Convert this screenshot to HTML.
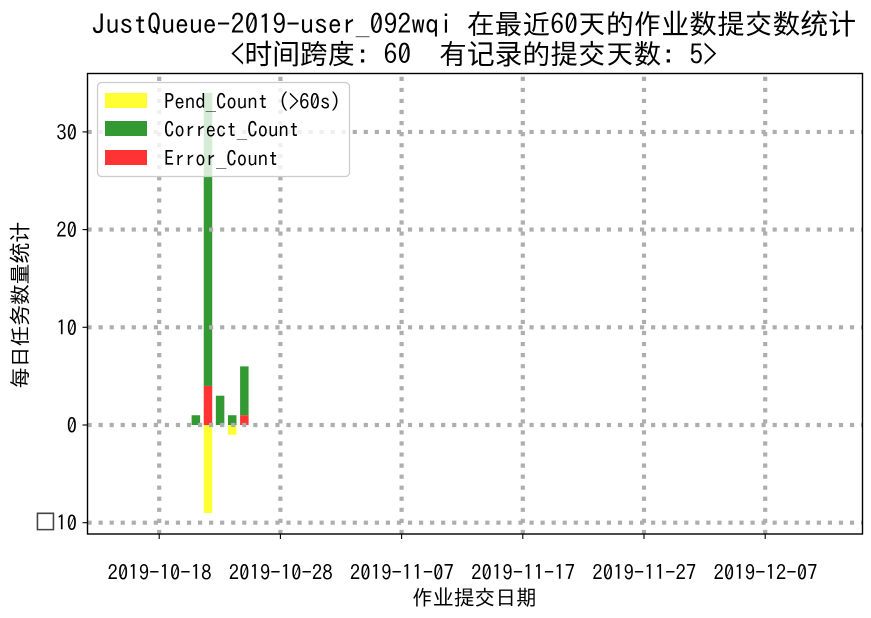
<!DOCTYPE html>
<html>
<head>
<meta charset="utf-8">
<style>
html,body{margin:0;padding:0;background:#fff;}
svg{display:block;}
text{font-family:"IPAGothic","WenQuanYi Zen Hei","Noto Sans CJK SC",sans-serif;fill:#000;white-space:pre;}
</style>
</head>
<body>
<svg id="chart" width="871" height="618" viewBox="0 0 871 618" xmlns="http://www.w3.org/2000/svg">
  <rect x="0" y="0" width="871" height="618" fill="#fff"/>
  <text x="473.8" y="34" font-size="27.8" text-anchor="middle">JustQueue-2019-user_092wqi 在最近60天的作业数提交数统计</text>
  <text x="473.8" y="64" font-size="27.8" text-anchor="middle">&lt;时间跨度: 60  有记录的提交天数: 5&gt;</text>
  <g id="grid"></g>
  <g id="bars"></g>
  <g id="grid-top"></g>
  <rect x="87.5" y="73.5" width="775" height="460.5" fill="none" stroke="#000" stroke-width="1.4"/>
  <g id="x-ticks"></g>
  <g id="y-ticks"></g>
  <text x="474.5" y="605" font-size="20.8" text-anchor="middle">作业提交日期</text>
  <text x="0" y="0" font-size="20.8" text-anchor="middle" transform="translate(27.5,305) rotate(-90)">每日任务数量统计</text>
  <g>
    <rect x="97.5" y="82.5" width="252" height="94" rx="4" ry="4" fill="#fff" fill-opacity="0.8" stroke="#ccc" stroke-width="1.3"/>
    <rect x="105" y="93" width="42" height="15" fill="#ffff33"/>
    <text x="164" y="109" font-size="20.8">Pend_Count (&gt;60s)</text>
    <rect x="105" y="121" width="42" height="15" fill="#339933"/>
    <text x="164" y="137" font-size="20.8">Correct_Count</text>
    <rect x="105" y="150" width="42" height="15" fill="#ff3333"/>
    <text x="164" y="166" font-size="20.8">Error_Count</text>
  </g>
</svg>
<script>
var dayOffsets = [3, 4, 5, 6, 7];
var correctCounts = [1, 30, 3, 1, 5];
var errorCounts = [0, 4, 0, 0, 1];
var pendCounts = [0, 9, 0, 1, 0];
var xTickDays = [0, 10, 20, 30, 40, 50];
var xTickLabels = ['2019-10-18', '2019-10-28', '2019-11-07', '2019-11-17', '2019-11-27', '2019-12-07'];
var yTickValues = [-10, 0, 10, 20, 30];
var yTickLabels = ['□10', '0', '10', '20', '30'];

var NS = 'http://www.w3.org/2000/svg';
var plotLeft = 87.5, plotRight = 862.5, plotTop = 73.5, plotBottom = 534;
function xScale(d) { return 159.2 + d * 12.12; }
function yScale(v) { return 425 - v * 9.77; }
function make(tag, attrs, parent) {
  var el = document.createElementNS(NS, tag);
  for (var k in attrs) { el.setAttribute(k, attrs[k]); }
  parent.appendChild(el);
  return el;
}
var gridTop = document.getElementById('grid-top');
var barsG = document.getElementById('bars');
var xT = document.getElementById('x-ticks');
var yT = document.getElementById('y-ticks');
var barW = 8.5;

dayOffsets.forEach(function (d, i) {
  var x = xScale(d) - barW / 2 + 0.3;
  var e = errorCounts[i], c = correctCounts[i], p = pendCounts[i];
  if (p > 0) {
    var rp = make('rect', {x: x, y: yScale(0), width: barW, height: yScale(-p) - yScale(0), fill: '#ffff33'}, barsG);
    
    
  }
  if (e > 0) {
    var re = make('rect', {x: x, y: yScale(e), width: barW, height: yScale(0) - yScale(e), fill: '#ff3333'}, barsG);
    
    
  }
  if (c > 0) {
    var rc = make('rect', {x: x, y: yScale(e + c), width: barW, height: yScale(e) - yScale(e + c), fill: '#339933'}, barsG);
    
    
  }
});

xTickDays.forEach(function (d, i) {
  var x = xScale(d);
  var g = make('line', {x1: x, x2: x, y1: plotBottom, y2: plotTop, stroke: '#aeaeae', 'stroke-width': 4.17, 'stroke-dasharray': '4.17 6.88'}, gridTop);
  
  
  var t = make('line', {x1: x, x2: x, y1: plotBottom, y2: plotBottom + 5, stroke: '#000', 'stroke-width': 1.1}, xT);
  
  
  var l = make('text', {x: x + 0.3, y: 580, 'font-size': 20.8, 'text-anchor': 'middle'}, xT);
  
  
  l.textContent = xTickLabels[i];
});

yTickValues.forEach(function (v, i) {
  var y = yScale(v);
  var g = make('line', {x1: plotLeft, x2: plotRight, y1: y, y2: y, stroke: '#aeaeae', 'stroke-width': 4.17, 'stroke-dasharray': '4.17 6.88'}, gridTop);
  
  
  var t = make('line', {x1: plotLeft - 5, x2: plotLeft, y1: y, y2: y, stroke: '#000', 'stroke-width': 1.1}, yT);
  
  
  var l = make('text', {x: 77, y: y + 8, 'font-size': 20.8, 'text-anchor': 'end'}, yT);
  
  
  var label = yTickLabels[i];
  if (label.charAt(0) === '□') {
    var box = make('tspan', {'font-size': 23.8, style: 'fill:#444'}, l);
    box.textContent = '□';
    var digits = make('tspan', {dx: -1.2}, l);
    digits.textContent = label.slice(1);
  } else {
    l.textContent = label;
  }
});
</script>
</body>
</html>
